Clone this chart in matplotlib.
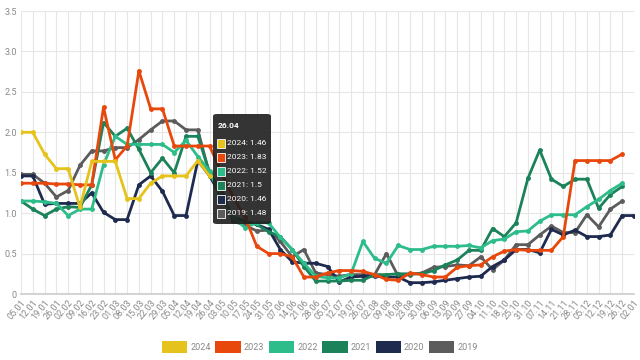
import matplotlib
matplotlib.use("Agg")
import matplotlib.pyplot as plt
import matplotlib.transforms as mtransforms
from matplotlib.patches import FancyBboxPatch, Rectangle

plt.rcParams['font.family'] = ['Roboto', 'DejaVu Sans']

weeks = ["05.01","12.01","19.01","26.01","02.02","09.02","16.02","23.02","01.03","08.03",
         "15.03","22.03","29.03","05.04","12.04","19.04","26.04","03.05","10.05","17.05",
         "24.05","31.05","07.06","14.06","21.06","28.06","05.07","12.07","19.07","26.07",
         "02.08","09.08","16.08","23.08","30.08","06.09","13.09","20.09","27.09","04.10",
         "11.10","18.10","25.10","31.10","07.11","14.11","21.11","28.11","05.12","12.12",
         "19.12","26.12","02.01"]

y2024 = [2.0,2.0,1.73,1.55,1.55,1.07,1.64,1.64,1.64,1.18,1.18,1.37,1.46,1.46,1.46,1.65,1.46]

y2023 = [1.37,1.37,1.37,1.36,1.36,1.35,1.35,2.31,1.66,1.83,2.76,2.29,2.29,1.83,1.83,1.83,1.83,
         1.5,1.2,0.95,0.59,0.50,0.50,0.46,0.21,0.21,0.26,0.29,0.29,0.28,0.24,0.18,0.17,0.26,
         0.24,0.21,0.21,0.33,0.35,0.36,0.46,0.53,0.55,0.54,0.54,0.54,0.71,1.65,1.65,1.65,1.65,1.73]

y2022 = [1.15,1.15,1.14,1.12,0.97,1.05,1.05,1.60,1.95,1.85,1.85,1.85,1.85,1.75,1.90,1.70,1.52,
         1.2,0.95,0.82,0.88,0.88,0.70,0.55,0.38,0.22,0.20,0.20,0.25,0.65,0.44,0.38,0.60,0.55,
         0.55,0.59,0.59,0.59,0.60,0.57,0.66,0.68,0.77,0.78,0.90,0.98,0.98,0.98,1.08,1.17,1.28,1.37]

y2021 = [1.15,1.05,0.97,1.05,1.08,1.07,1.35,2.12,1.95,2.05,1.79,1.50,1.68,1.50,1.95,1.95,1.50,
         1.2,0.95,0.90,0.86,0.77,0.71,0.55,0.34,0.16,0.16,0.16,0.17,0.17,0.24,0.24,0.25,0.25,
         0.25,0.29,0.36,0.42,0.54,0.54,0.81,0.71,0.88,1.43,1.78,1.42,1.33,1.42,1.42,1.06,1.23,1.33]

y2020 = [1.46,1.46,1.11,1.12,1.12,1.12,1.25,1.01,0.92,0.92,1.35,1.46,1.27,0.97,0.97,1.65,1.46,
         1.2,0.95,0.90,0.86,0.80,0.55,0.40,0.38,0.38,0.34,0.15,0.21,0.22,0.22,0.21,0.21,0.14,
         0.14,0.15,0.17,0.19,0.21,0.22,0.34,0.42,0.55,0.55,0.51,0.80,0.73,0.79,0.71,0.71,0.73,0.97,0.97]

y2019 = [1.48,1.48,1.37,1.20,1.28,1.59,1.77,1.77,1.81,1.81,1.91,2.03,2.14,2.14,2.03,2.03,1.48,
         1.3,0.90,0.85,0.78,0.79,0.65,0.46,0.55,0.26,0.24,0.22,0.24,0.24,0.24,0.50,0.22,0.24,
         0.26,0.33,0.34,0.36,0.35,0.46,0.30,0.42,0.61,0.61,0.73,0.84,0.76,0.76,0.98,0.83,1.05,1.15]

series = [("2024", y2024, "#e6c31c"),
          ("2023", y2023, "#e8480c"),
          ("2022", y2022, "#2dbd8b"),
          ("2021", y2021, "#1b8259"),
          ("2020", y2020, "#1f2a4f"),
          ("2019", y2019, "#5c5c5c")]

fig = plt.figure(figsize=(6.4, 3.6), dpi=100)
ax = fig.add_axes([21/640, 1-294/360, 613/640, 283/360])

for name, vals, col in reversed(series):
    ax.plot(range(len(vals)), vals, color=col, lw=2, marker="o", ms=3.5,
            markeredgewidth=0, zorder=3, solid_joinstyle="round")

ax.set_xlim(0, 52)
ax.set_ylim(0, 3.5)
ax.set_xticks(range(len(weeks)))
ax.set_xticklabels(weeks, rotation=50, ha="right", rotation_mode="anchor",
                   fontsize=6.5, color="#888888")
shift = mtransforms.ScaledTranslation(-3/100, 0, fig.dpi_scale_trans)
for lab in ax.get_xticklabels():
    lab.set_transform(lab.get_transform() + shift)
ax.set_yticks([0, 0.5, 1.0, 1.5, 2.0, 2.5, 3.0, 3.5])
ax.set_yticklabels(["0", "0.5", "1.0", "1.5", "2.0", "2.5", "3.0", "3.5"],
                   fontsize=6.5, color="#888888")
ax.tick_params(length=0, pad=3)
ax.grid(True, color="#e6e6e6", lw=0.8, zorder=0)
for s in ["top", "right", "left"]:
    ax.spines[s].set_visible(False)
ax.spines["bottom"].set_color("#cccccc")
ax.spines["bottom"].set_linewidth(1.2)

# tooltip
tip_idx = 16
def fx(px):
    return px / 640
def fy(py):
    return 1 - py / 360
box = FancyBboxPatch((fx(213), fy(224)), fx(58), (224-114)/360,
                     boxstyle="round,pad=0,rounding_size=0.006",
                     transform=fig.transFigure, facecolor="#1e1e1e", alpha=0.9,
                     edgecolor="none", zorder=10)
fig.patches.append(box)
fig.text(fx(218), fy(125), weeks[tip_idx], color="white", fontsize=6,
         fontweight="bold", va="center", ha="left", zorder=11)
rows_y = [143, 157, 171, 185, 199, 213]
for (name, vals, col), ry in zip(series, rows_y):
    fig.patches.append(Rectangle((fx(217), fy(ry + 4.5)), fx(8), 9/360,
                                 transform=fig.transFigure, facecolor=col,
                                 edgecolor="white", lw=0.6, zorder=11))
    v = vals[tip_idx]
    txt = f"{name}: {v:g}"
    fig.text(fx(227), fy(ry), txt, color="white", fontsize=6, va="center",
             ha="left", zorder=11)

# legend
handles = [Rectangle((0, 0), 1, 1, facecolor=c, edgecolor="none") for _, _, c in series]
fig.legend(handles, [n for n, _, _ in series], loc="center", ncol=6,
           bbox_to_anchor=(0.5, 1-347/360), frameon=False, fontsize=6.5,
           handlelength=2.8, handleheight=1.6, handletextpad=0.35, columnspacing=0.5,
           labelcolor="#888888")

fig.savefig("out.png", dpi=100)
